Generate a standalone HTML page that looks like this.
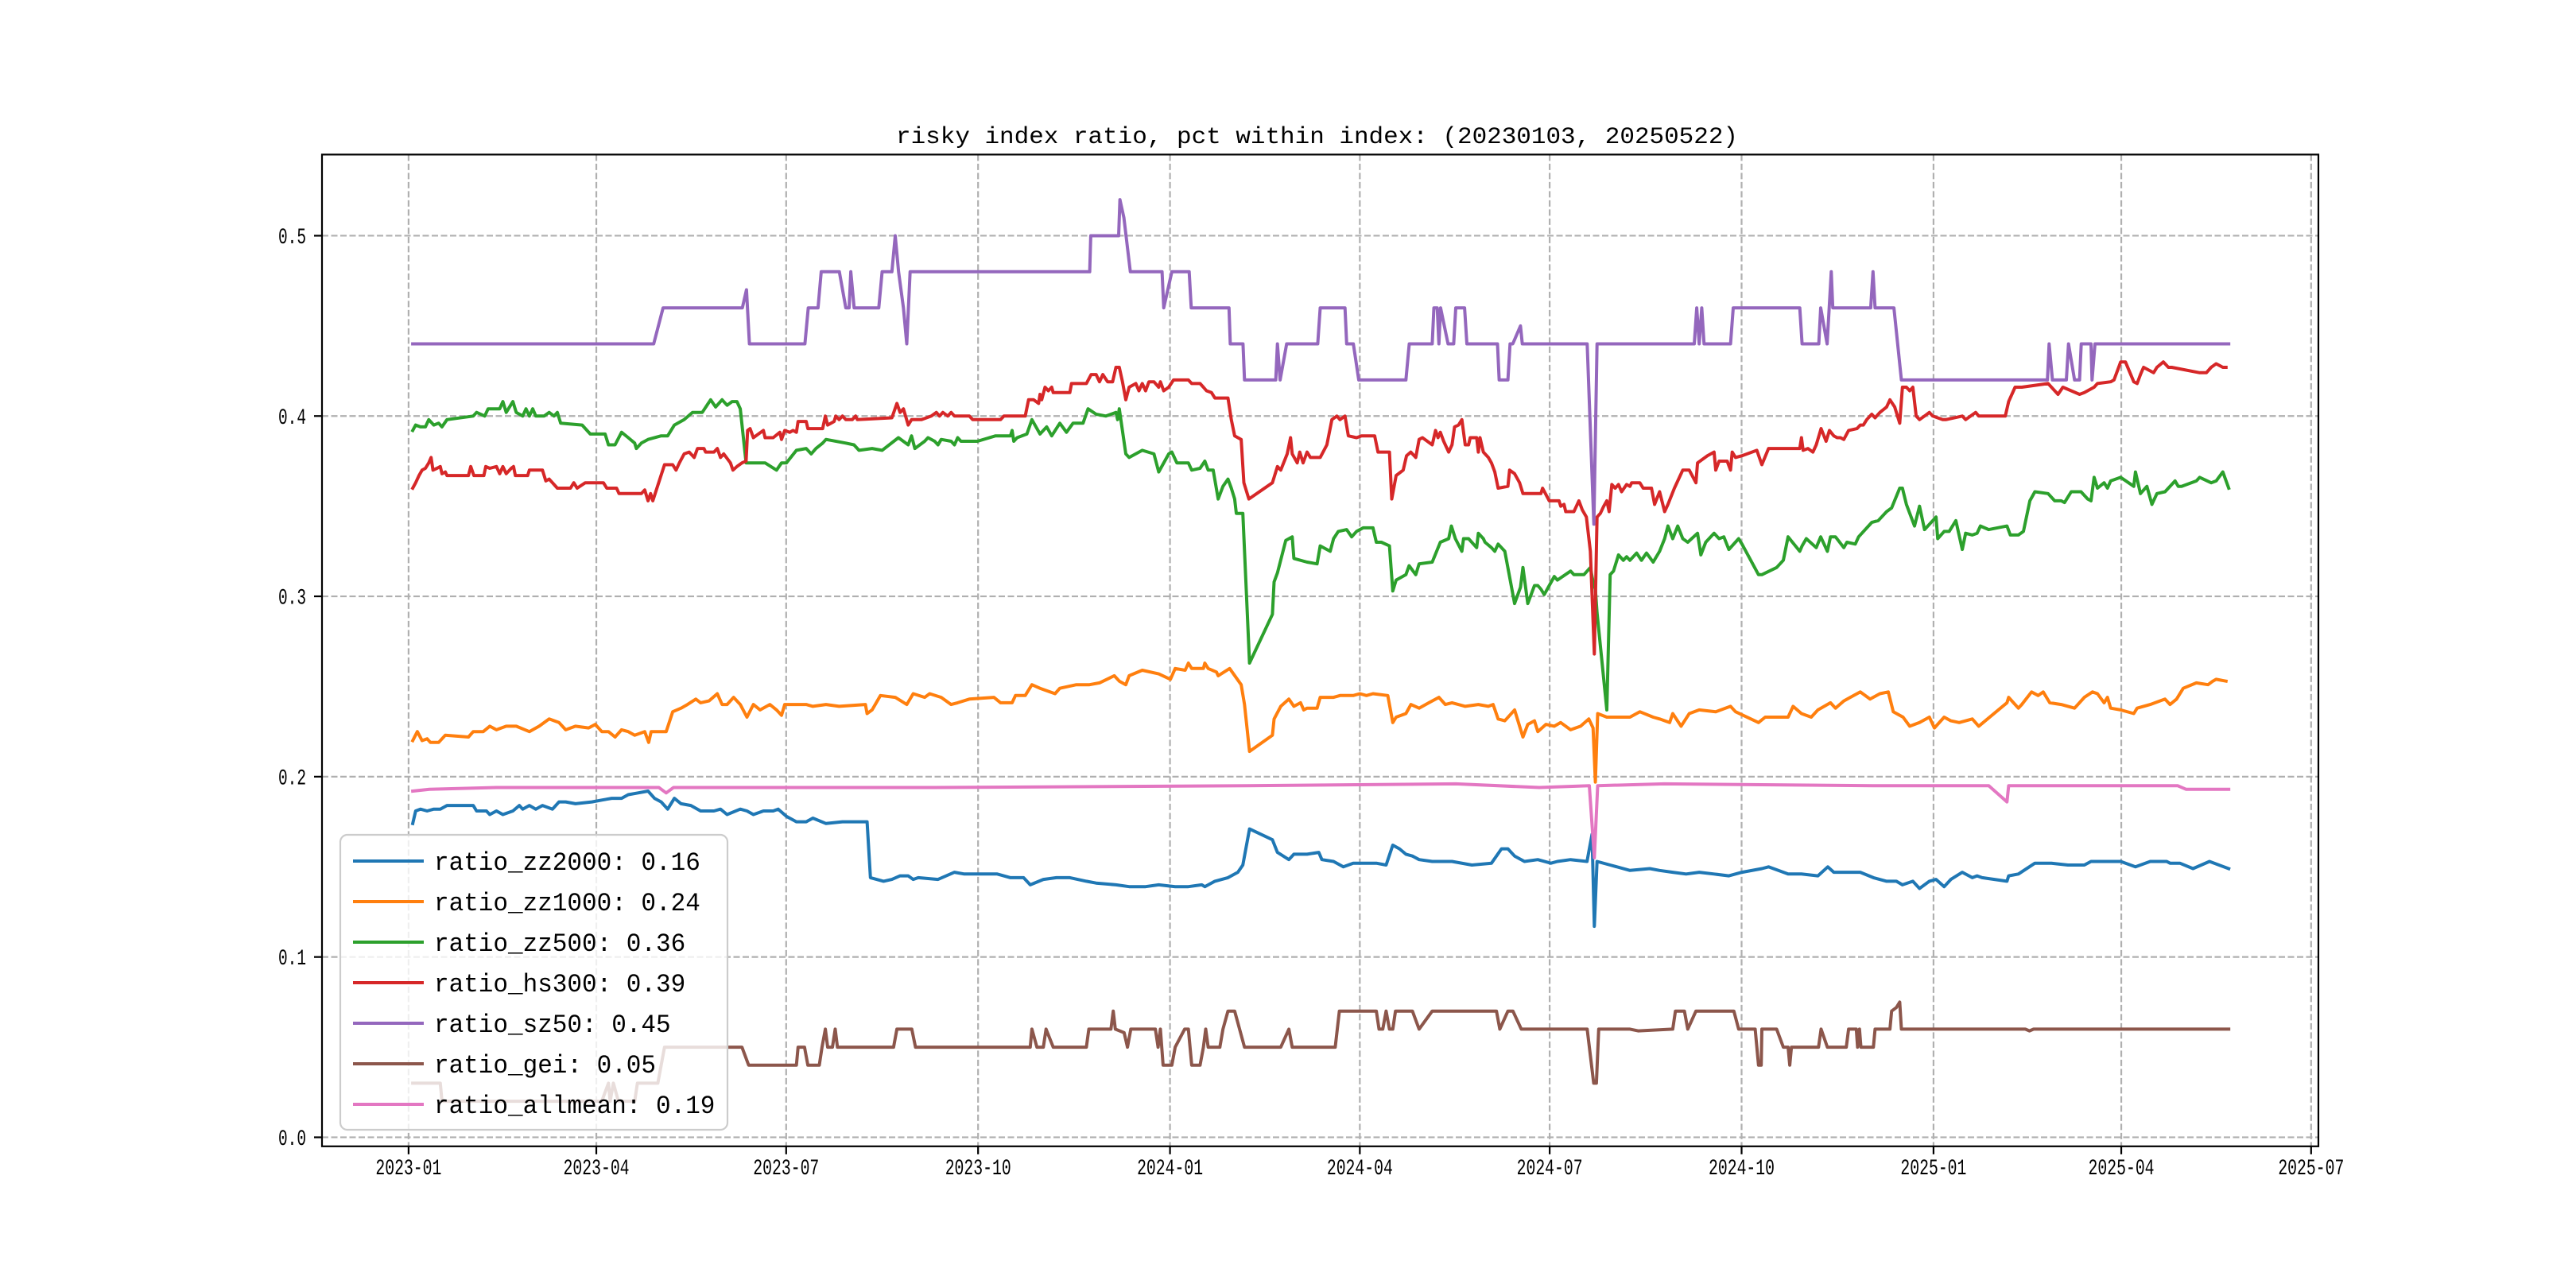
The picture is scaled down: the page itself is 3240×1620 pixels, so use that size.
<!DOCTYPE html>
<html><head><meta charset="utf-8"><title>risky index ratio</title>
<style>html,body{margin:0;padding:0;background:#fff;}svg{display:block;}text{font-family:"Liberation Mono","WenQuanYi Zen Hei",monospace;fill:#000;}</style>
</head><body>
<svg id="chart" xmlns="http://www.w3.org/2000/svg" width="3240" height="1620" viewBox="0 0 3240 1620">
<rect x="0" y="0" width="3240" height="1620" fill="#fff"/>
<text x="1127" y="180" font-size="30" textLength="1059" lengthAdjust="spacingAndGlyphs">risky index ratio, pct within index: (20230103, 20250522)</text>
<g id="grid"></g>
<g id="series"></g>
<g id="axes"></g>
<g id="legend"></g>
</svg>
<script>
// ---- data (x = days since 2023-01-03, y = ratio) ----
const startDate = "2023-01-03";
const xTickLabels = ["2023-01","2023-04","2023-07","2023-10","2024-01","2024-04","2024-07","2024-10","2025-01","2025-04","2025-07"];
const yTickValues = [0.0,0.1,0.2,0.3,0.4,0.5];
const seriesNames = ["ratio_zz2000","ratio_zz1000","ratio_zz500","ratio_hs300","ratio_sz50","ratio_gei","ratio_allmean"];
const legendValues = ["0.16","0.24","0.36","0.39","0.45","0.05","0.19"];

const zz2000Days = [0,1.4,3.7,6.9,10.1,13.2,16.4,29,30.6,35.3,36.9,40.1,43.2,48,51.1,52.7,55.9,59,62.2,67,70.1,73.3,78,85.9,90.6,95.4,100.1,103.3,108,112.8,115.9,119.1,122.2,125.4,128.6,133.3,138,144.4,147.5,150.7,157,160.2,163.3,168.1,172.8,175.2,179.1,183.9,188.6,191.8,198.1,206,217.8,219.4,225.7,229.7,233.6,237.5,239.9,242.3,251.8,259.7,264.4,280.2,286.5,292.8,296,302.3,308.6,315,322.9,327.6,337.1,343.4,351.3,357.6,365.5,371.8,378.2,379.7,384.5,390.8,395.5,397.9,401.1,412.1,414.5,420,422.4,428.7,434.3,435.8,441.4,446.1,450.8,461.9,466.6,469.8,473,476.1,479.2,482.4,488.7,498.2,507.7,517.1,521.9,525,528.2,532.9,539.3,545.6,548.7,555,562.9,565.3,566.4,567.7,574,583.5,593,597.7,604,610.4,616.7,623.8,630.9,637.2,646.7,649.9,659.3,665.7,673.6,678.3,681.2,687.5,693.9,700.2,706.5,711.2,714.1,719.1,722.3,727,730.2,734.1,737.3,742.8,747.6,749.9,752.3,764.2,765,769.7,777.6,785.5,793.4,801.3,804.5,812.4,818.7,825.8,832.9,840.8,842.4,847.1,853.4,861.3,870.5];
const zz2000Vals = [0.174,0.181,0.182,0.181,0.182,0.182,0.184,0.184,0.181,0.181,0.179,0.181,0.179,0.181,0.184,0.182,0.184,0.182,0.184,0.182,0.186,0.186,0.185,0.186,0.187,0.188,0.188,0.190,0.191,0.192,0.188,0.186,0.182,0.188,0.185,0.184,0.181,0.181,0.182,0.179,0.182,0.181,0.179,0.181,0.181,0.182,0.178,0.175,0.175,0.177,0.174,0.175,0.175,0.144,0.142,0.143,0.145,0.145,0.143,0.144,0.143,0.147,0.146,0.146,0.144,0.144,0.140,0.143,0.144,0.144,0.142,0.141,0.140,0.139,0.139,0.140,0.139,0.139,0.140,0.139,0.142,0.144,0.147,0.151,0.171,0.165,0.158,0.154,0.157,0.157,0.158,0.154,0.153,0.150,0.152,0.152,0.151,0.162,0.160,0.157,0.156,0.154,0.153,0.153,0.151,0.152,0.160,0.160,0.156,0.153,0.154,0.152,0.153,0.154,0.153,0.168,0.117,0.153,0.151,0.148,0.149,0.148,0.147,0.146,0.147,0.146,0.145,0.147,0.149,0.150,0.146,0.146,0.145,0.150,0.147,0.147,0.147,0.144,0.142,0.142,0.140,0.142,0.138,0.142,0.143,0.139,0.143,0.147,0.144,0.145,0.144,0.142,0.145,0.146,0.152,0.152,0.151,0.151,0.153,0.153,0.153,0.150,0.153,0.153,0.152,0.152,0.149,0.153,0.149,0.148,0.147];

const zz1000Days = [0,2.2,4.5,6.9,8.5,12.4,15.6,26.7,29,33.8,36.9,40.1,44.8,49.6,55.9,60.6,65.4,70.1,73.3,78,84.3,87.5,90.6,93.8,97,100.1,103.3,106.4,111.2,113.1,114.3,121.5,124.6,128.6,131.7,135.7,138,142,146,148.3,150.7,153.8,157,160.2,163.3,166.5,171.2,174.4,176.8,178.3,185.4,188.6,191.8,198.1,204.4,217,217.8,220.2,224.2,231.3,236.8,239.9,245.4,247.8,253.3,258.1,261.2,266.8,278.6,281.8,287.3,288.9,293.6,296.8,300.7,307.9,310.2,318.1,324.4,329.2,336.3,338.7,341.8,343.4,349.7,357.6,363.2,365.5,370.3,371.8,373.4,379,379.7,381.3,385.3,386.1,391.6,397.1,398.7,401.1,412.1,412.9,416.1,420,422.4,425.6,427.1,428.7,433.5,435,441.4,444.5,450.8,454,457.2,460.3,467.4,469.8,471.4,476.1,478.5,482.4,487.1,491.9,495,498.2,504.5,510.8,515.6,517.9,520.3,523.5,528.2,532.2,534.5,537.7,539.3,543.2,547.2,550.3,555,559.8,563.8,565.8,566.9,568,572.4,575.6,583.5,588.2,594.6,597.7,602.5,604,608,611.9,616.7,624.6,631.7,634.1,645.1,648.3,653,659.3,661.7,665.7,670.4,673.6,679.6,682,686,689.1,693.9,698.6,703.3,707.3,709.7,714.4,717.6,722.3,727,729.4,734.1,737.3,741.3,747.6,750.7,764.2,765,769.7,771.3,776,779.2,781.6,784.7,790.2,796.6,801.3,805.2,807.6,810.8,812.4,813.9,818.7,825,826.6,832.9,840,842.4,845.5,848.7,855,860.6,862.9,864.5,869.2,870.5];
const zz1000Vals = [0.220,0.225,0.220,0.221,0.219,0.219,0.223,0.222,0.225,0.225,0.228,0.226,0.228,0.228,0.225,0.228,0.232,0.230,0.226,0.228,0.227,0.229,0.225,0.225,0.222,0.226,0.225,0.223,0.225,0.219,0.225,0.225,0.236,0.238,0.240,0.243,0.241,0.242,0.246,0.240,0.240,0.244,0.240,0.233,0.240,0.237,0.240,0.237,0.234,0.240,0.240,0.240,0.239,0.240,0.239,0.240,0.235,0.237,0.245,0.244,0.240,0.246,0.244,0.246,0.244,0.240,0.241,0.243,0.244,0.241,0.241,0.245,0.245,0.251,0.249,0.246,0.249,0.251,0.251,0.252,0.256,0.253,0.251,0.256,0.259,0.257,0.254,0.260,0.259,0.263,0.260,0.260,0.263,0.260,0.258,0.256,0.260,0.251,0.240,0.214,0.223,0.232,0.239,0.243,0.239,0.241,0.237,0.238,0.238,0.244,0.244,0.245,0.245,0.246,0.245,0.246,0.245,0.230,0.233,0.235,0.240,0.238,0.241,0.244,0.240,0.241,0.239,0.240,0.239,0.240,0.232,0.231,0.237,0.222,0.229,0.231,0.225,0.229,0.228,0.230,0.226,0.228,0.232,0.227,0.197,0.235,0.233,0.233,0.233,0.236,0.233,0.232,0.230,0.235,0.228,0.235,0.237,0.236,0.239,0.236,0.230,0.233,0.233,0.233,0.239,0.235,0.233,0.237,0.241,0.238,0.242,0.244,0.247,0.243,0.246,0.247,0.236,0.233,0.228,0.230,0.233,0.227,0.233,0.231,0.230,0.232,0.228,0.241,0.244,0.238,0.240,0.247,0.245,0.247,0.241,0.240,0.238,0.244,0.247,0.246,0.241,0.244,0.238,0.237,0.235,0.238,0.240,0.243,0.240,0.243,0.249,0.252,0.251,0.253,0.254,0.253];

const zz500Days = [0,1.4,3.7,6.1,7.7,10.1,12.4,14,16.4,29,30.6,34.5,36.1,41.7,43.2,44.8,46.4,48,49.6,52.7,54.3,55.9,57.5,59,63,65.4,67.7,69.3,70.9,81.2,85.1,92.2,93.8,97,100.1,103.3,106.4,107.2,109.6,112.8,119.1,122.2,125.4,130.1,134.1,138.8,142.8,145.2,148.3,150.7,153.1,155.4,157,159.8,166.5,168.9,174.4,176.8,179.1,183.9,188.6,191,193.3,196.5,198.1,207.6,211.5,213.9,220.2,225,232.8,237.5,239.1,240.7,245.4,247,250.2,251.8,253.3,258.1,259.7,261.2,262.8,270.7,279.4,286.5,287.3,288.1,289.7,294.4,296.8,300.7,303.9,306.3,310.2,313.4,316.5,321.3,323.7,327.6,332.3,337.1,337.9,338.7,341.8,343.4,349.7,355.3,357.6,362.4,363.9,366.3,371.8,373.4,377.4,379.7,381.3,383.7,386.1,388.4,390.8,392.4,394,394.8,397.9,401.1,412.1,412.9,414.5,418.5,421.6,422.4,428.7,433.5,435,439.8,441.4,443.7,447.7,450.1,452.4,455.6,460.3,461.9,464.3,468.2,469.8,471.4,476.1,477.6,480.8,482.4,488.7,492.6,496.6,497.9,499.8,502.9,503.7,506.1,510,510.8,513.2,514,517.1,518.7,520.3,523.5,528.2,531,532.2,534.5,537.7,539.3,540.8,542.4,547.2,548.7,555,556.6,561.4,564.5,565.8,566.9,567.7,572.4,574,575.6,578,580.3,581.9,583.5,586.7,589,591.4,594.6,597.7,600.1,601.7,604,606.4,608.8,611.2,615.9,617.5,619.8,623.8,626.2,628.5,630.9,635.6,637.2,645.1,646.7,653.8,657,659.3,664.9,666,668,672.8,674.9,678.1,679.6,682,686,687.5,691.5,693.1,699.4,702.5,706.5,708.9,712.8,714.1,716,719.9,722.3,724.7,730.2,731,734.1,736.5,739.7,742.8,744.4,747.6,749.9,751.5,755.5,764.2,765.8,769.7,772.1,775.2,777.6,783.9,787.1,790.2,791.8,795,799.7,802.9,804.5,806,807.6,810.8,812.4,813.9,818.7,825,825.8,828.2,831.3,833.7,836.1,840,844.8,846.3,847.9,855,856.6,862.1,864.5,867.7,870.5];
const zz500Vals = [0.392,0.395,0.394,0.394,0.398,0.395,0.396,0.394,0.398,0.400,0.402,0.400,0.404,0.404,0.408,0.402,0.405,0.408,0.402,0.400,0.404,0.400,0.404,0.400,0.400,0.402,0.400,0.402,0.396,0.395,0.390,0.390,0.384,0.384,0.391,0.388,0.385,0.382,0.385,0.387,0.389,0.389,0.395,0.398,0.402,0.402,0.409,0.405,0.409,0.406,0.408,0.408,0.404,0.374,0.374,0.374,0.370,0.374,0.374,0.381,0.382,0.379,0.382,0.385,0.387,0.385,0.384,0.381,0.382,0.381,0.388,0.384,0.389,0.382,0.386,0.388,0.386,0.384,0.387,0.386,0.384,0.388,0.386,0.386,0.389,0.389,0.392,0.386,0.388,0.390,0.398,0.390,0.394,0.389,0.396,0.391,0.396,0.396,0.404,0.401,0.400,0.402,0.398,0.404,0.379,0.377,0.381,0.379,0.369,0.379,0.380,0.374,0.374,0.370,0.371,0.375,0.370,0.370,0.354,0.361,0.365,0.360,0.354,0.346,0.346,0.263,0.290,0.308,0.313,0.331,0.333,0.321,0.319,0.318,0.328,0.325,0.332,0.336,0.337,0.333,0.336,0.338,0.338,0.330,0.330,0.328,0.303,0.309,0.312,0.317,0.312,0.318,0.319,0.330,0.332,0.339,0.332,0.325,0.332,0.332,0.327,0.335,0.332,0.330,0.327,0.325,0.329,0.325,0.296,0.305,0.316,0.296,0.306,0.306,0.304,0.301,0.311,0.309,0.314,0.312,0.312,0.316,0.308,0.304,0.291,0.237,0.312,0.314,0.323,0.320,0.322,0.320,0.324,0.320,0.324,0.319,0.325,0.332,0.339,0.332,0.339,0.332,0.330,0.335,0.323,0.330,0.335,0.332,0.333,0.326,0.332,0.329,0.312,0.312,0.316,0.320,0.333,0.325,0.328,0.332,0.327,0.333,0.325,0.333,0.333,0.327,0.330,0.329,0.333,0.341,0.342,0.347,0.349,0.360,0.360,0.351,0.339,0.350,0.337,0.344,0.332,0.336,0.336,0.342,0.326,0.335,0.334,0.335,0.339,0.337,0.339,0.334,0.334,0.336,0.353,0.358,0.357,0.353,0.353,0.352,0.358,0.358,0.354,0.353,0.366,0.360,0.363,0.360,0.364,0.366,0.361,0.369,0.357,0.361,0.351,0.357,0.358,0.364,0.361,0.361,0.364,0.366,0.363,0.364,0.369,0.360,0.364,0.367,0.373];

const hs300Days = [0,1.4,3,4.5,6.1,7.7,8.8,9.7,11.6,13.2,14,15.6,16.4,26.7,27.8,29.3,34.1,35,36.9,40.1,41.7,43.2,44.8,47.2,48.3,49.2,55.1,55.9,62.2,63.8,65.4,67,69.3,75.6,77.2,78.8,82.7,91.4,93,97.7,98.9,109.6,111.2,112.8,114,115.1,120.7,124.6,126.2,127.8,130.1,132.5,134.9,136.5,139.6,140.4,144.4,146,147.5,149.1,152.3,153.5,155.4,157.8,159.8,160.5,161.7,163.3,165.7,168.1,168.9,172.8,176,176.8,178.3,180.7,182.3,183.9,184.7,188.6,189.4,196.5,197.8,198.9,202,202.8,204.4,206,207.6,210.7,212.3,213.1,229.7,232.1,233.6,235.2,237.5,239.1,243.9,248.6,251,252.5,254.1,256.5,258.1,259.7,266.8,268.4,281.8,283.4,293.6,295.2,297.6,300,300.7,301.5,303.1,304.7,306.3,307,308.6,315,315.8,322.9,325.2,327.6,329.2,330.8,333.1,335.5,337.1,338.7,340.2,341.8,343.4,346.6,348.1,349.7,351.3,352.9,355.3,357.6,358.4,360,362.4,364.7,371.8,373.4,377.4,379,380.5,382.9,384.5,390.8,392.4,394,397.1,398.4,400.8,412.1,414.5,416.1,419.2,420.8,421.6,424,425.2,426.8,428.7,430.3,435,438.2,440.6,443,444.5,446.9,448.5,452.4,454.8,461.1,462.7,465,468.2,469.3,471.4,474.8,476.4,478.4,480.8,482.4,484,488.7,490.3,491.5,492.6,494.2,496.6,498.2,499.4,501.3,502.9,504.5,506.1,506.9,510,510.8,511.6,513.2,515.6,517.1,518.7,520.3,525,525.8,528.2,530.6,532.2,540.8,541.6,544.8,547.2,549.5,550.3,551.9,552.7,556.6,559,560.6,562.6,564.5,566.4,567.7,569.3,570.9,572.4,573.5,574.8,576.4,578,579.5,581.9,583.5,584.3,588.2,589.8,593.8,595.3,597.7,600.1,601.7,604.8,608.8,611.9,615.1,615.9,620.6,623.8,624.6,626.2,630.1,631.7,632.5,634.1,637.2,644.3,646.7,649.9,664.9,665.7,666.5,668.8,671.2,672.8,675.1,677.5,679.1,681.2,682.8,684.4,686,688.3,692.3,693.9,695.4,697,699.4,701,703.3,706.5,708.1,710.4,712.8,714.1,716,717.6,719.1,720.7,722.3,724.7,727,728.6,733.4,734.9,742.8,744.4,749.2,750.7,763.4,765,768.1,771.3,783.9,788.7,791,795,799,801.3,806,807.6,813.9,815.5,818.7,821,825,826.6,828.2,829.7,834.5,836.1,839.2,841.6,843.2,856.6,859.8,862.1,864.5,867.7,869.2,870.5];
const hs300Vals = [0.360,0.363,0.367,0.370,0.371,0.374,0.377,0.370,0.371,0.372,0.368,0.369,0.367,0.367,0.372,0.367,0.367,0.372,0.371,0.372,0.368,0.372,0.368,0.371,0.372,0.367,0.367,0.370,0.370,0.364,0.365,0.363,0.360,0.360,0.363,0.360,0.363,0.363,0.360,0.360,0.357,0.357,0.359,0.353,0.357,0.353,0.373,0.373,0.370,0.374,0.379,0.380,0.377,0.382,0.382,0.380,0.380,0.382,0.377,0.379,0.374,0.370,0.372,0.374,0.375,0.392,0.393,0.388,0.390,0.392,0.388,0.388,0.391,0.387,0.392,0.391,0.392,0.391,0.397,0.397,0.393,0.393,0.400,0.395,0.397,0.400,0.398,0.400,0.398,0.398,0.400,0.398,0.399,0.407,0.402,0.404,0.395,0.398,0.398,0.400,0.402,0.400,0.402,0.400,0.402,0.400,0.400,0.398,0.398,0.400,0.400,0.409,0.409,0.407,0.412,0.409,0.416,0.414,0.416,0.413,0.413,0.413,0.418,0.418,0.423,0.423,0.419,0.423,0.419,0.419,0.427,0.427,0.419,0.409,0.416,0.418,0.414,0.418,0.414,0.419,0.419,0.416,0.419,0.414,0.416,0.420,0.420,0.418,0.418,0.416,0.414,0.413,0.410,0.410,0.398,0.389,0.387,0.363,0.354,0.363,0.372,0.370,0.379,0.388,0.379,0.374,0.380,0.374,0.380,0.377,0.377,0.384,0.398,0.400,0.398,0.400,0.389,0.388,0.389,0.389,0.380,0.380,0.380,0.354,0.367,0.370,0.378,0.380,0.377,0.387,0.388,0.384,0.392,0.388,0.391,0.386,0.380,0.384,0.394,0.395,0.398,0.384,0.384,0.388,0.388,0.380,0.388,0.380,0.377,0.374,0.369,0.360,0.361,0.370,0.368,0.363,0.357,0.357,0.360,0.353,0.353,0.353,0.350,0.351,0.347,0.347,0.353,0.348,0.344,0.325,0.268,0.344,0.346,0.350,0.353,0.347,0.362,0.360,0.362,0.358,0.362,0.361,0.363,0.363,0.360,0.360,0.351,0.358,0.347,0.351,0.360,0.370,0.370,0.363,0.374,0.378,0.380,0.370,0.375,0.375,0.370,0.380,0.377,0.378,0.381,0.373,0.382,0.382,0.388,0.381,0.382,0.380,0.384,0.393,0.386,0.392,0.389,0.388,0.388,0.387,0.392,0.393,0.395,0.395,0.398,0.401,0.399,0.402,0.405,0.409,0.405,0.396,0.416,0.416,0.414,0.416,0.400,0.398,0.400,0.402,0.400,0.398,0.398,0.400,0.398,0.402,0.400,0.400,0.408,0.416,0.416,0.418,0.412,0.416,0.414,0.412,0.413,0.416,0.418,0.419,0.420,0.430,0.430,0.419,0.418,0.423,0.427,0.424,0.427,0.430,0.427,0.427,0.424,0.424,0.427,0.429,0.427,0.427];

const sz50Days = [0,115.5,120,158,160,161.4,188,189.6,194.3,195.8,204.5,207.6,209.2,210,211.6,223.4,225,229.7,231.3,232.9,235.2,236.8,238.4,324.5,325,338.4,339,340.9,344,359.2,360,363.9,372.2,373.2,391.3,391.9,398,398.7,413.7,414.5,415.8,418.9,433.8,435,446.9,447.7,450.9,453.5,476.1,477.7,488.7,489.5,491.1,491.9,492.7,496.3,499,500,504.2,505.3,520,520.8,525,526,527.3,531,531.9,563,566.2,567.7,614.3,615.5,616.7,617.9,619,631.7,633,664.9,666,674,674.9,678,680,680.7,698.9,700,701,710,713.6,783.6,784.4,786,792.7,793.7,796.6,799,799.8,804.5,805,806.4,870.5];
const sz50Vals = [0.44,0.44,0.46,0.46,0.47,0.44,0.44,0.46,0.46,0.48,0.48,0.46,0.46,0.48,0.46,0.46,0.48,0.48,0.50,0.48,0.46,0.44,0.48,0.48,0.50,0.50,0.52,0.51,0.48,0.48,0.46,0.48,0.48,0.46,0.46,0.44,0.44,0.42,0.42,0.44,0.42,0.44,0.44,0.46,0.46,0.44,0.44,0.42,0.42,0.44,0.44,0.46,0.46,0.44,0.46,0.44,0.44,0.46,0.46,0.44,0.44,0.42,0.42,0.44,0.44,0.45,0.44,0.44,0.34,0.44,0.44,0.46,0.44,0.46,0.44,0.44,0.46,0.46,0.44,0.44,0.46,0.44,0.48,0.46,0.46,0.48,0.46,0.46,0.42,0.42,0.44,0.42,0.42,0.44,0.42,0.42,0.44,0.44,0.42,0.44,0.44];

const geiDays = [0,13.2,14,90.6,93.8,94.6,96.2,98.6,106.4,107.7,117.5,120.7,157.8,161,183.9,184.7,187.8,189.4,194.9,196.2,197.8,198.9,201.2,202.5,203.6,230.5,232.1,239.2,241,296,296.8,299.2,302.3,303.6,307,322.9,324.1,334.7,335.8,336.8,341,342.6,344.2,356,357.3,358.4,359.7,363.9,365.5,370,371.8,373.4,377.4,379,380.1,381.3,386.9,388.4,390.8,394,398.7,416.1,420,421.6,442.2,444.2,461.9,463.2,465,466.6,468.2,469.8,471.1,479.2,482.4,488.7,519.5,521.1,525,527.4,531.4,563,566.1,567.4,568.5,583.5,587.4,604,605.3,609.6,611.2,615.1,633.3,635.6,643.5,645.1,646.4,646.7,653.8,657,659.3,660.1,660.9,673.9,675.1,678.1,687.2,688.3,692,692.6,693.5,694.2,700.2,701,708.1,708.9,711.2,712.8,713.6,773,775,777,870.5];
const geiVals = [0.03,0.03,0.02,0.02,0.03,0.02,0.03,0.02,0.02,0.03,0.03,0.05,0.05,0.04,0.04,0.05,0.05,0.04,0.04,0.05,0.06,0.05,0.05,0.06,0.05,0.05,0.06,0.06,0.05,0.05,0.06,0.05,0.05,0.06,0.05,0.05,0.06,0.06,0.07,0.06,0.058,0.05,0.06,0.06,0.05,0.06,0.04,0.04,0.05,0.06,0.06,0.04,0.04,0.05,0.06,0.05,0.05,0.06,0.07,0.07,0.05,0.05,0.06,0.05,0.05,0.07,0.07,0.06,0.06,0.07,0.06,0.06,0.07,0.07,0.06,0.07,0.07,0.06,0.07,0.07,0.06,0.06,0.03,0.03,0.06,0.06,0.059,0.06,0.07,0.07,0.06,0.07,0.07,0.06,0.06,0.04,0.04,0.06,0.06,0.05,0.05,0.04,0.05,0.05,0.06,0.05,0.05,0.06,0.06,0.05,0.06,0.05,0.05,0.06,0.06,0.07,0.072,0.075,0.06,0.06,0.059,0.06,0.06];

const allmeanDays = [0,8,40,118,121.5,125,250,400,500,540,564,566.4,568,600,700,755.5,764.2,765,846,850,870.5];
const allmeanVals = [0.192,0.193,0.194,0.194,0.191,0.194,0.194,0.195,0.196,0.194,0.195,0.155,0.195,0.196,0.195,0.195,0.186,0.195,0.195,0.193,0.193];

// ---- layout ----
const AX = {left:405, right:2916, top:194.4, bottom:1441.8};
const XMIN = -43.5, XMAX = 913.5, YMIN = -0.005, YMAX = 0.545;
const colors = ["#1f77b4","#ff7f0e","#2ca02c","#d62728","#9467bd","#8c564b","#e377c2"];
const SVGNS = "http://www.w3.org/2000/svg";
function xScale(d){return AX.left + (d - XMIN)/(XMAX - XMIN)*(AX.right - AX.left);}
function yScale(v){return AX.bottom - (v - YMIN)/(YMAX - YMIN)*(AX.bottom - AX.top);}
function dayOf(label){const a=new Date(startDate+"T00:00:00Z");const b=new Date(label+"-01T00:00:00Z");return (b-a)/86400000;}
function mk(tag,attrs,parent){const e=document.createElementNS(SVGNS,tag);for(const k in attrs)e.setAttribute(k,attrs[k]);parent.appendChild(e);return e;}

const grid=document.getElementById('grid'), axes=document.getElementById('axes'), ser=document.getElementById('series'), leg=document.getElementById('legend');

xTickLabels.forEach(function(lab){
  const x=xScale(dayOf(lab));
  const g=mk('line',{x1:x,x2:x,y1:AX.top,y2:AX.bottom,stroke:'#b0b0b0','stroke-width':2.2,'stroke-dasharray':'8,3.5'},grid);
  
  
  const t=mk('line',{x1:x,x2:x,y1:AX.bottom,y2:AX.bottom+10,stroke:'#000','stroke-width':2.2},axes);
  
  
  const tx=mk('text',{x:x,y:1477,'font-size':28,'text-anchor':'middle',textLength:83,lengthAdjust:'spacingAndGlyphs'},axes);
  tx.textContent=lab;
  
  
});
yTickValues.forEach(function(v){
  const y=yScale(v);
  const g=mk('line',{x1:AX.left,x2:AX.right,y1:y,y2:y,stroke:'#b0b0b0','stroke-width':2.2,'stroke-dasharray':'8,3.5'},grid);
  
  
  const t=mk('line',{x1:AX.left-10,x2:AX.left,y1:y,y2:y,stroke:'#000','stroke-width':2.2},axes);
  
  
  const tx=mk('text',{x:385,y:y+9.5,'font-size':28,'text-anchor':'end',textLength:35,lengthAdjust:'spacingAndGlyphs'},axes);
  tx.textContent=v.toFixed(1);
  
  
});
const frame=mk('rect',{x:AX.left,y:AX.top,width:AX.right-AX.left,height:AX.bottom-AX.top,fill:'none',stroke:'#000','stroke-width':2.2},axes);



const allDays=[zz2000Days,zz1000Days,zz500Days,hs300Days,sz50Days,geiDays,allmeanDays];
const allVals=[zz2000Vals,zz1000Vals,zz500Vals,hs300Vals,sz50Vals,geiVals,allmeanVals];
allDays.forEach(function(ds,i){
  const vs=allVals[i];
  const n=Math.min(ds.length,vs.length);
  const pts=[];
  for(let j=0;j<n;j++){pts.push(xScale(ds[j]).toFixed(1)+','+yScale(vs[j]).toFixed(1));}
  const p=mk('polyline',{points:pts.join(' '),fill:'none',stroke:colors[i],'stroke-width':4,'stroke-linejoin':'round','stroke-linecap':'square'},ser);
  
  
});

const box=mk('rect',{x:428,y:1050,width:487,height:371,rx:9,fill:'#fff','fill-opacity':0.8,stroke:'#cccccc','stroke-width':2.2},leg);


seriesNames.forEach(function(n,i){
  const y=1083+i*51;
  const h=mk('line',{x1:444,x2:533,y1:y,y2:y,stroke:colors[i],'stroke-width':4},leg);
  
  
  const s=n+': '+legendValues[i];
  const t=mk('text',{x:546,y:y+11,'font-size':32,textLength:(s.length*18.6).toFixed(1),lengthAdjust:'spacingAndGlyphs'},leg);
  t.textContent=s;
  
  
});
</script>
</body></html>
